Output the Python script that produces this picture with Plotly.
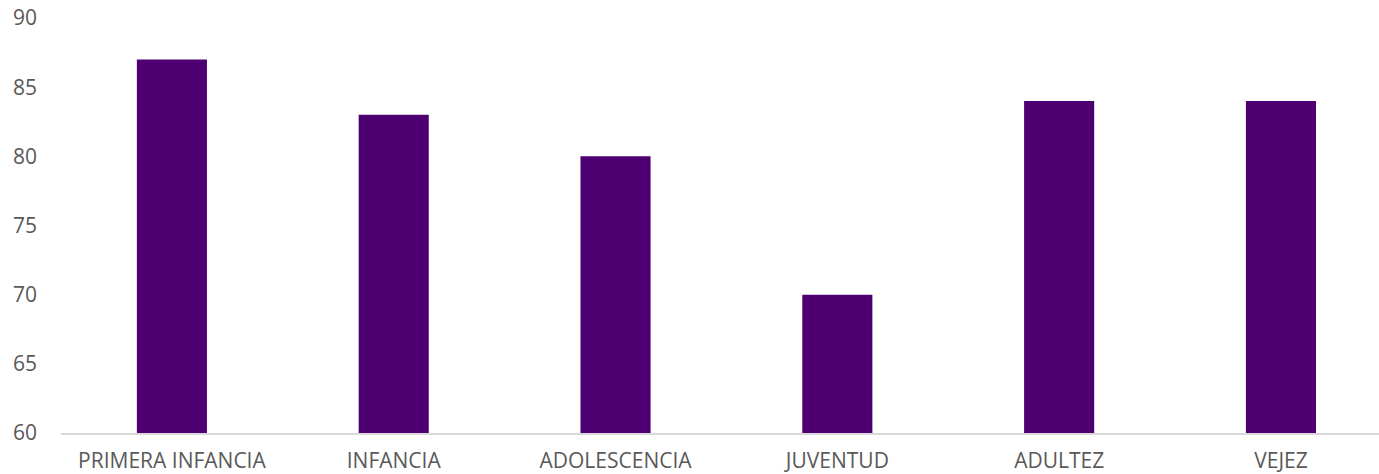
import plotly.graph_objects as go

categories = ["PRIMERA INFANCIA", "INFANCIA", "ADOLESCENCIA", "JUVENTUD", "ADULTEZ", "VEJEZ"]
values = [87, 83, 80, 70, 84, 84]
y_ticks = [60, 65, 70, 75, 80, 85, 90]

fig = go.Figure(
    go.Bar(
        x=categories,
        y=values,
        marker=dict(color="#4E0072", line=dict(width=0)),
        width=0.316,
    )
)

fig.update_layout(
    width=1379,
    height=474,
    margin=dict(l=61, r=0, t=18, b=41, autoexpand=False),
    paper_bgcolor="white",
    plot_bgcolor="white",
    showlegend=False,
    font=dict(family="Open Sans", size=21, color="#595959"),
)
fig.update_xaxes(
    range=[-0.5, 5.442],
    automargin=False,
    showline=True,
    linecolor="#D9D9D9",
    linewidth=1.5,
    showgrid=False,
    ticks="",
    ticklabelstandoff=8,
    tickfont=dict(size=21, color="#595959"),
)
fig.update_yaxes(
    range=[60, 90],
    tickvals=y_ticks,
    automargin=False,
    showgrid=False,
    zeroline=False,
    showline=False,
    ticks="",
    ticklabelstandoff=23,
    ticklabeloverflow="allow",
    tickfont=dict(size=21, color="#595959"),
)

fig.write_html(
    "out.html",
    config={"displayModeBar": False},
    post_script="document.body.style.margin='0';document.body.style.overflow='hidden';",
)
